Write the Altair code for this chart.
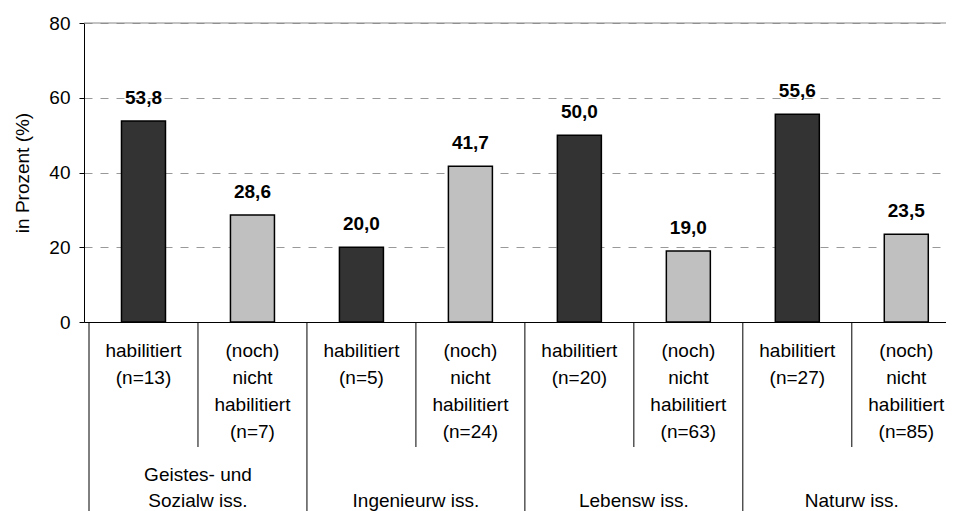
import altair as alt
import pandas as pd

# ---- data ----
fields = ["Geistes- und\nSozialw iss.", "Ingenieurw iss.", "Lebensw iss.", "Naturw iss."]
status_labels = ["habilitiert", "(noch)\nnicht\nhabilitiert"]
status_keys = ["hab", "nicht"]
n_values = [13, 7, 5, 24, 20, 63, 27, 85]
percent = [53.8, 28.6, 20.0, 41.7, 50.0, 19.0, 55.6, 23.5]

FONT = "Liberation Sans"

rows = []
for i, (n, v) in enumerate(zip(n_values, percent)):
    s = i % 2
    rows.append({
        "pos": i + 0.5,
        "field": fields[i // 2],
        "status": status_keys[s],
        "value": v,
        "vlabel": f"{v:.1f}".replace(".", ","),
        "clabel": f"{status_labels[s]}\n(n={n})",
    })
df = pd.DataFrame(rows)

# group labels split into lines, counted from the bottom line
glines = []
for g, lab in enumerate(fields):
    parts = lab.split("\n")
    for j, p in enumerate(parts):
        glines.append({"pos": 2 * g + 1, "line": p, "fromBottom": len(parts) - 1 - j})
gdf = pd.DataFrame(glines)

group_bounds = pd.DataFrame({"pos": [2 * g for g in range(len(fields))]})
inner_bounds = pd.DataFrame({"pos": [2 * g + 1 for g in range(len(fields))]})

W, H = 862, 299
xmax = W / 110.25
xscale = alt.Scale(domain=[0, xmax], nice=False, zero=False)
yscale = alt.Scale(domain=[0, 80], nice=False)

xenc = alt.X("pos:Q", scale=xscale,
             axis=alt.Axis(domain=True, domainColor="black", domainWidth=1,
                           ticks=False, labels=False, grid=False, title=None))

bars = alt.Chart(df).mark_bar(size=44, stroke="black", strokeWidth=1.5).encode(
    x=xenc,
    y=alt.Y("value:Q", scale=yscale,
            axis=alt.Axis(values=[0, 20, 40, 60, 80], grid=True, gridDash=[8, 8],
                          gridColor="#999999", gridWidth=1,
                          domainColor="black", domainWidth=1,
                          tickColor="black", tickSize=5, tickWidth=1,
                          labelFontSize=19, labelPadding=9, labelColor="black",
                          labelFont=FONT,
                          title="in Prozent (%)", titleFontSize=19,
                          titleFontWeight="normal", titleColor="black", titleFont=FONT,
                          titleX=-62, titleY=H / 2, titleAlign="center",
                          titleBaseline="middle")),
    color=alt.Color("status:N", scale=alt.Scale(domain=status_keys,
                                                range=["#333333", "#C0C0C0"]),
                    legend=None),
)

top_rule = alt.Chart(pd.DataFrame({"v": [80]})).mark_rule(color="#888888", strokeWidth=1).encode(
    y=alt.Y("v:Q", scale=yscale), x=alt.value(0), x2=alt.value(W)
)

vlabels = alt.Chart(df).mark_text(fontSize=19, fontWeight="bold", font=FONT,
                                  color="black", dy=-17, baseline="alphabetic").encode(
    x=alt.X("pos:Q", scale=xscale), y=alt.Y("value:Q", scale=yscale), text="vlabel:N"
)

clabels = alt.Chart(df).mark_text(fontSize=19, font=FONT, color="black",
                                  baseline="alphabetic", lineBreak="\n",
                                  lineHeight=27).encode(
    x=alt.X("pos:Q", scale=xscale), y=alt.value(334), text="clabel:N"
)

GL_BOTTOM = 484
glabels_last = alt.Chart(gdf).transform_filter("datum.fromBottom == 0").mark_text(
    fontSize=19, font=FONT, color="black", baseline="alphabetic").encode(
    x=alt.X("pos:Q", scale=xscale), y=alt.value(GL_BOTTOM), text="line:N"
)
glabels_prev = alt.Chart(gdf).transform_filter("datum.fromBottom == 1").mark_text(
    fontSize=19, font=FONT, color="black", baseline="alphabetic").encode(
    x=alt.X("pos:Q", scale=xscale), y=alt.value(GL_BOTTOM - 26), text="line:N"
)

grules = alt.Chart(group_bounds).mark_rule(color="black", strokeWidth=1).encode(
    x=alt.X("pos:Q", scale=xscale), y=alt.value(H), y2=alt.value(H + 200)
)
irules = alt.Chart(inner_bounds).mark_rule(color="black", strokeWidth=1).encode(
    x=alt.X("pos:Q", scale=xscale), y=alt.value(H), y2=alt.value(H + 125)
)

chart = alt.layer(top_rule, bars, vlabels, grules, irules, clabels,
                  glabels_last, glabels_prev).properties(
    width=W, height=H,
    autosize=alt.AutoSizeParams(type="none"),
    padding={"left": 76, "top": 15, "right": 0, "bottom": 189},
    background="white",
).configure_view(strokeWidth=0)

chart.save("out.html", embed_options={"renderer": "svg", "actions": False})
